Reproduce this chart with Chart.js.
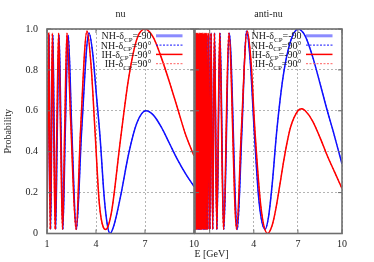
<!DOCTYPE html>
<html>
<head>
<meta charset="utf-8">
<title>nu / anti-nu probability</title>
<script src="https://cdn.jsdelivr.net/npm/chart.js@4.4.0/dist/chart.umd.min.js"></script>
<style>
  html, body { margin: 0; padding: 0; background: #fff; }
  #wrap { position: relative; width: 374px; height: 262px; }
  #wrap canvas { position: absolute; left: 0; top: 0; }
</style>
</head>
<body>
<div id="wrap">
  <canvas id="nuChart" width="374" height="262"></canvas>
  <canvas id="antiChart" width="374" height="262"></canvas>
</div>
<script>
// --- Data (E in GeV, probability) ---
// nu panel, normal hierarchy (blue)
const nuNH_E = [1.00, 1.06, 1.12, 1.17, 1.22, 1.29, 1.36, 1.44, 1.53, 1.63, 1.74, 1.86, 1.97, 2.12, 2.30, 2.52, 2.80, 3.12, 3.57, 3.80, 4.00, 4.25, 4.50, 4.70, 4.86, 5.10, 5.50, 6.00, 6.50, 7.05, 7.50, 8.00, 8.50, 9.00, 9.50, 10.0];
const nuNH_P = [0.03, 0.50, 0.97, 0.50, 0.02, 0.50, 0.97, 0.50, 0.02, 0.50, 0.97, 0.50, 0.02, 0.50, 0.97, 0.50, 0.02, 0.50, 0.98, 0.88, 0.70, 0.47, 0.18, 0.04, 0.00, 0.04, 0.18, 0.39, 0.54, 0.60, 0.58, 0.52, 0.44, 0.36, 0.29, 0.23];
// nu panel, inverted hierarchy (red)
const nuIH_E = [1.00, 1.05, 1.10, 1.15, 1.20, 1.26, 1.33, 1.41, 1.50, 1.60, 1.71, 1.83, 1.95, 2.08, 2.22, 2.45, 2.78, 3.05, 3.45, 3.70, 3.94, 4.20, 4.45, 4.60, 4.80, 5.00, 5.50, 6.00, 6.50, 7.00, 7.50, 8.00, 8.50, 9.00, 9.50, 10.0];
const nuIH_P = [0.03, 0.50, 0.98, 0.50, 0.02, 0.50, 0.98, 0.50, 0.02, 0.50, 0.98, 0.50, 0.02, 0.50, 0.98, 0.55, 0.02, 0.50, 0.99, 0.82, 0.50, 0.15, 0.03, 0.02, 0.05, 0.13, 0.46, 0.76, 0.95, 1.00, 0.96, 0.86, 0.74, 0.61, 0.48, 0.38];

// anti-nu panel, normal hierarchy (blue)
const anuNH_E = [0.00, 0.015, 0.04, 0.065, 0.09, 0.115, 0.14, 0.165, 0.19, 0.215, 0.24, 0.265, 0.29, 0.315, 0.34, 0.365, 0.39, 0.415, 0.44, 0.465, 0.49, 0.515, 0.54, 0.565, 0.59,
  0.615, 0.65, 0.685, 0.725, 0.765, 0.815, 0.87, 0.935, 1.01, 1.10, 1.205, 1.33, 1.49, 1.70, 1.96, 2.33, 2.88, 3.19, 3.50, 3.75, 4.03, 4.35, 4.76, 5.00, 5.25, 5.56, 6.00, 6.50, 7.03, 7.50, 8.00, 8.50, 9.00, 9.40, 9.70, 10.0];
const anuNH_P = [0.50, 0.02, 0.97, 0.02, 0.97, 0.02, 0.97, 0.02, 0.97, 0.02, 0.97, 0.02, 0.97, 0.02, 0.97, 0.02, 0.97, 0.02, 0.97, 0.02, 0.97, 0.02, 0.97, 0.02, 0.97,
  0.02, 0.97, 0.02, 0.97, 0.02, 0.97, 0.02, 0.97, 0.02, 0.98, 0.02, 0.98, 0.02, 0.98, 0.02, 0.98, 0.02, 0.50, 0.99, 0.85, 0.50, 0.16, 0.02, 0.08, 0.24, 0.50, 0.77, 0.94, 1.00, 0.965, 0.865, 0.735, 0.60, 0.50, 0.42, 0.34];
// anti-nu panel, inverted hierarchy (red)
const anuIH_E = [0.00, 0.01, 0.035, 0.06, 0.085, 0.11, 0.135, 0.16, 0.185, 0.21, 0.235, 0.26, 0.285, 0.31, 0.335, 0.36, 0.385, 0.41, 0.435, 0.46, 0.485, 0.51, 0.535, 0.56, 0.585,
  0.61, 0.645, 0.68, 0.72, 0.76, 0.81, 0.865, 0.93, 1.005, 1.09, 1.20, 1.32, 1.48, 1.68, 1.94, 2.30, 2.83, 3.15, 3.55, 3.80, 4.08, 4.50, 4.94, 5.25, 5.50, 5.80, 6.00, 6.25, 6.50, 7.00, 7.26, 7.50, 8.00, 8.50, 9.00, 9.50, 10.0];
const anuIH_P = [0.90, 0.02, 0.98, 0.02, 0.98, 0.02, 0.98, 0.02, 0.98, 0.02, 0.98, 0.02, 0.98, 0.02, 0.98, 0.02, 0.98, 0.02, 0.98, 0.02, 0.98, 0.02, 0.98, 0.02, 0.98,
  0.02, 0.98, 0.02, 0.98, 0.02, 0.98, 0.02, 0.98, 0.02, 0.98, 0.02, 0.98, 0.02, 0.98, 0.02, 0.98, 0.02, 0.50, 0.99, 0.85, 0.50, 0.12, 0.00, 0.04, 0.12, 0.25, 0.34, 0.44, 0.52, 0.60, 0.61, 0.60, 0.55, 0.47, 0.38, 0.30, 0.22];

const xTickValues = [1, 4, 7, 10];
const legendLabels = ['NH-δ_CP=-90', 'NH-δ_CP=90°', 'IH-δ_CP=-90°', 'IH-δ_CP=90°'];
const panelTitles = ['nu', 'anti-nu'];
const xTitle = 'E [GeV]';
const yTitle = 'Probability';

// --- Styles ---
const SERIF = '"Liberation Serif", "Times New Roman", serif';
const BLUE = '#1010ff';
const RED = '#ff0000';
const GRID = '#b4b4b4';
const FRAME = '#6e6e6e';
const legendLines = [
    { color: 'rgba(100,100,255,0.75)', width: 3, dash: [] },
    { color: BLUE, width: 1, dash: [2, 1.5] },
    { color: RED, width: 1.5, dash: [] },
    { color: '#ff6060', width: 1, dash: [2, 1.5] }
];

Chart.defaults.font.family = SERIF;
Chart.defaults.font.size = 10;
Chart.defaults.color = '#222';

const toPoints = (xs, ys) => xs.map((x, i) => ({ x: x, y: ys[i] }));

function makeDatasets(nhE, nhP, ihE, ihP) {
    const base = { pointRadius: 0, cubicInterpolationMode: 'monotone', fill: false };
    return [
        { label: legendLabels[0], data: toPoints(nhE, nhP), borderColor: BLUE, borderWidth: 1.5, order: 2 },
        { label: legendLabels[1], data: toPoints(nhE, nhP), borderColor: BLUE, borderWidth: 1, borderDash: [2, 2], order: 3 },
        { label: legendLabels[2], data: toPoints(ihE, ihP), borderColor: RED, borderWidth: 1.5, order: 0 },
        { label: legendLabels[3], data: toPoints(ihE, ihP), borderColor: RED, borderWidth: 1, borderDash: [2, 2], order: 1 }
    ].map(d => Object.assign({}, base, d));
}

// Box, inward ticks, legend with subscripts, panel titles
const framePlugin = {
    id: 'frame',
    afterDatasetsDraw(chart, args, opts) {
        const { ctx, chartArea: a, scales: { x, y } } = chart;
        ctx.save();

        // inward tick marks on all four sides
        ctx.strokeStyle = FRAME;
        ctx.lineWidth = 1;
        ctx.beginPath();
        x.ticks.forEach(t => {
            const px = x.getPixelForValue(t.value);
            ctx.moveTo(px, a.bottom); ctx.lineTo(px, a.bottom - 4);
            ctx.moveTo(px, a.top); ctx.lineTo(px, a.top + 4);
        });
        y.ticks.forEach(t => {
            const py = y.getPixelForValue(t.value);
            ctx.moveTo(a.left, py); ctx.lineTo(a.left + 4, py);
            ctx.moveTo(a.right, py); ctx.lineTo(a.right - 4, py);
        });
        ctx.stroke();

        // border box
        ctx.lineWidth = 1.6;
        ctx.strokeRect(a.left, a.top, a.right - a.left, a.bottom - a.top);

        // legend
        const textRight = a.right - opts.legendInset;
        chart.data.datasets.forEach((ds, i) => {
            const cy = a.top + 6.8 + i * 9.3;
            const base = cy + 3.4;
            const parts = ds.label.split('_CP');
            ctx.fillStyle = '#222';
            ctx.textBaseline = 'alphabetic';
            ctx.textAlign = 'left';
            ctx.font = '10px ' + SERIF;
            const w0 = ctx.measureText(parts[0]).width;
            const w2 = ctx.measureText(parts[1]).width;
            ctx.font = '7px ' + SERIF;
            const w1 = ctx.measureText('CP').width;
            let tx = textRight - (w0 + w1 + w2);
            ctx.font = '10px ' + SERIF;
            ctx.fillText(parts[0], tx, base);
            tx += w0;
            ctx.font = '7px ' + SERIF;
            ctx.fillText('CP', tx, base + 2.5);
            tx += w1;
            ctx.font = '10px ' + SERIF;
            ctx.fillText(parts[1], tx, base);

            const st = legendLines[i];
            ctx.strokeStyle = st.color;
            ctx.lineWidth = st.width;
            ctx.setLineDash(st.dash);
            ctx.beginPath();
            ctx.moveTo(textRight + 4.5, cy);
            ctx.lineTo(textRight + 31, cy);
            ctx.stroke();
            ctx.setLineDash([]);
        });

        // panel title
        ctx.fillStyle = '#222';
        ctx.font = '10px ' + SERIF;
        ctx.textAlign = 'center';
        ctx.textBaseline = 'middle';
        ctx.fillText(opts.title, (a.left + a.right) / 2, 14);
        if (opts.xTitle) {
            ctx.fillText(opts.xTitle, opts.xTitleX, 254);
        }
        ctx.restore();
    }
};

function panelOptions(cfg) {
    const gridOpts = { color: GRID, lineWidth: 1, drawTicks: false };
    const borderOpts = { display: false, dash: [2, 2] };
    return {
        responsive: false,
        animation: false,
        events: [],
        layout: { padding: { left: 0, right: cfg.padRight, top: 29, bottom: 0 } },
        plugins: {
            legend: { display: false },
            tooltip: { enabled: false },
            frame: { title: cfg.title, legendInset: cfg.legendInset, xTitle: cfg.xTitle, xTitleX: 211.5 }
        },
        scales: {
            x: {
                type: 'linear',
                min: cfg.xMin,
                max: 10,
                afterBuildTicks: s => { s.ticks = xTickValues.map(v => ({ value: v })); },
                afterFit: s => { s.height = 28.5; },
                grid: gridOpts,
                border: borderOpts,
                ticks: { padding: 5, autoSkip: false, maxRotation: 0, callback: cfg.xLabel }
            },
            y: {
                min: 0,
                max: 1,
                afterFit: s => { s.width = cfg.yWidth; },
                grid: gridOpts,
                border: borderOpts,
                ticks: { display: cfg.showY, stepSize: 0.2, padding: 9 },
                title: { display: cfg.showY, text: yTitle, padding: { top: 2.5, bottom: 0 } }
            }
        }
    };
}

new Chart(document.getElementById('nuChart'), {
    type: 'line',
    data: { datasets: makeDatasets(nuNH_E, nuNH_P, nuIH_E, nuIH_P) },
    options: panelOptions({
        title: panelTitles[0], xMin: 1, padRight: 180, yWidth: 47, showY: true,
        legendInset: 42.5, xTitle: null, xLabel: v => String(v)
    }),
    plugins: [framePlugin]
});

new Chart(document.getElementById('antiChart'), {
    type: 'line',
    data: { datasets: makeDatasets(anuNH_E, anuNH_P, anuIH_E, anuIH_P) },
    options: panelOptions({
        title: panelTitles[1], xMin: 0, padRight: 32, yWidth: 195, showY: false,
        legendInset: 40.5, xTitle: xTitle, xLabel: v => (v === 1 ? '' : String(v))
    }),
    plugins: [framePlugin]
});
</script>
</body>
</html>
